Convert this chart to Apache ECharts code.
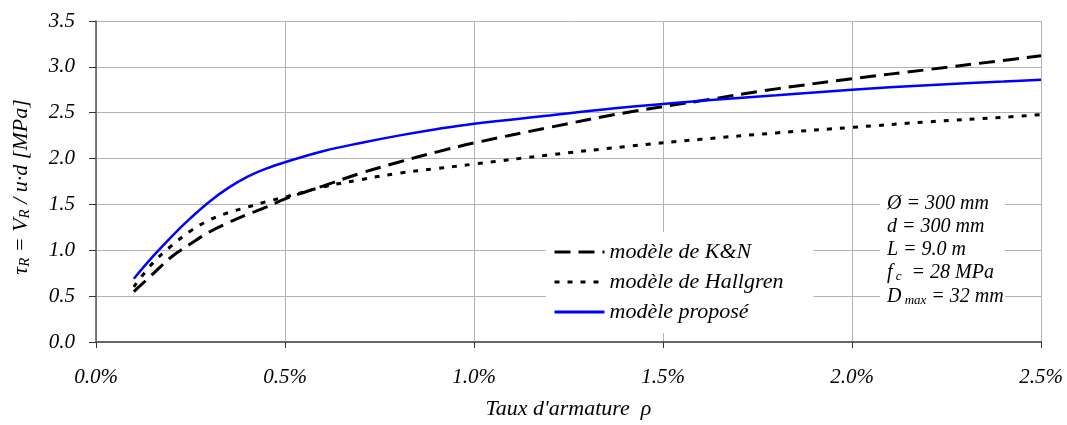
<!DOCTYPE html>
<html><head><meta charset="utf-8">
<script src="https://cdn.jsdelivr.net/npm/echarts@6/dist/echarts.min.js"></script>
<style>html,body{margin:0;padding:0;background:#fff}#c{width:1067px;height:425px}</style>
</head><body><div id="c"></div>
<script>
// Reinforcement ratio (%)
const rho = [0.1, 0.15, 0.2, 0.25, 0.3, 0.35, 0.4, 0.45, 0.5, 0.6, 0.7, 0.8, 0.9, 1.0, 1.2, 1.4, 1.6, 1.8, 2.0, 2.2, 2.4, 2.5];
// Shear strength tau_R (MPa)
const kn       = [0.55, 0.74, 0.93, 1.07, 1.20, 1.30, 1.39, 1.47, 1.56, 1.70, 1.84, 1.96, 2.07, 2.17, 2.34, 2.50, 2.63, 2.76, 2.87, 2.97, 3.07, 3.12];
const hallgren = [0.60, 0.86, 1.05, 1.21, 1.33, 1.41, 1.47, 1.53, 1.58, 1.69, 1.77, 1.84, 1.89, 1.94, 2.04, 2.13, 2.21, 2.28, 2.34, 2.40, 2.45, 2.48];
const propose  = [0.69, 0.93, 1.15, 1.35, 1.53, 1.68, 1.80, 1.89, 1.96, 2.08, 2.17, 2.25, 2.32, 2.38, 2.47, 2.56, 2.63, 2.69, 2.75, 2.80, 2.84, 2.86];
const seriesNames = ['modèle de K&N', 'modèle de Hallgren', 'modèle proposé'];

const FONT = '"Liberation Serif", "Times New Roman", serif';
const pair = (ys) => rho.map((x, i) => [x, ys[i]]);

const chart = echarts.init(document.getElementById('c'), null, {renderer: 'canvas'});
chart.setOption({
  animation: false,
  backgroundColor: '#fff',
  grid: {left: 96, right: 26, top: 21, bottom: 82, containLabel: false},
  xAxis: {
    type: 'value', min: 0, max: 2.5, interval: 0.5,
    name: 'Taux d\'armature  ρ', nameLocation: 'middle', nameGap: 56,
    nameTextStyle: {fontFamily: FONT, fontStyle: 'italic', fontSize: 22, color: '#000'},
    axisLine: {show: true, lineStyle: {color: '#666', width: 2}},
    axisTick: {show: true, length: 6, lineStyle: {color: '#333'}},
    axisLabel: {margin: 25, fontFamily: FONT, fontStyle: 'italic', fontSize: 21, color: '#000',
      formatter: v => v.toFixed(1) + '%'},
    splitLine: {show: true, lineStyle: {color: '#b3b3b3', width: 1}}
  },
  yAxis: {
    type: 'value', min: 0, max: 3.5, interval: 0.5,
    axisLine: {show: true, lineStyle: {color: '#555', width: 1.5}},
    axisTick: {show: true, length: 7, lineStyle: {color: '#333'}},
    axisLabel: {margin: 21, fontFamily: FONT, fontStyle: 'italic', fontSize: 21, color: '#000',
      formatter: v => v.toFixed(1)},
    splitLine: {show: true, lineStyle: {color: '#b3b3b3', width: 1}}
  },
  legend: {
    show: true,
    orient: 'vertical', left: 546, top: 232,
    backgroundColor: '#fff', padding: [9, 30, 10, 7],
    itemWidth: 50, itemHeight: 20, itemGap: 8,
    itemStyle: {color: 'transparent', borderColor: 'transparent', borderWidth: 0, opacity: 0},
    lineStyle: {width: 3},
    textStyle: {fontFamily: FONT, fontStyle: 'italic', fontSize: 22, color: '#000'},
    data: seriesNames
  },
  series: [
    {name: seriesNames[0], type: 'line', data: pair(kn), smooth: 0.4, symbol: 'none', showSymbol: false,
      lineStyle: {color: '#000', width: 3, type: [16, 8]}, itemStyle: {color: '#000'}, z: 3},
    {name: seriesNames[1], type: 'line', data: pair(hallgren), smooth: 0.4, symbol: 'none', showSymbol: false,
      lineStyle: {color: '#000', width: 3, type: [5, 8]}, itemStyle: {color: '#000'}, z: 3},
    {name: seriesNames[2], type: 'line', data: pair(propose), smooth: 0.4, symbol: 'none', showSymbol: false,
      lineStyle: {color: '#0000ff', width: 2.5}, itemStyle: {color: '#0000ff'}, z: 4}
  ],
  graphic: [
    {type: 'text', x: 21, y: 187, rotation: Math.PI / 2,
      style: {text: '{a|τ}{s|R}{a| = V}{s|R}{a| / u·d [MPa]}', fill: '#000',
        align: 'center', verticalAlign: 'middle',
        rich: {a: {fontFamily: FONT, fontStyle: 'italic', fontSize: 22},
               s: {fontFamily: FONT, fontStyle: 'italic', fontSize: 15, padding: [9, 0, 0, 0]}}}},
    {type: 'rect', shape: {x: 880, y: 190, width: 125, height: 118}, style: {fill: '#fff'}, z: 10},
    {type: 'text', x: 887, y: 204, z: 11, style: {text: 'Ø = 300 mm', font: 'italic 20px ' + FONT, fill: '#000', verticalAlign: 'middle'}},
    {type: 'text', x: 887, y: 227, z: 11, style: {text: 'd = 300 mm', font: 'italic 20px ' + FONT, fill: '#000', verticalAlign: 'middle'}},
    {type: 'text', x: 887, y: 250, z: 11, style: {text: 'L = 9.0 m', font: 'italic 20px ' + FONT, fill: '#000', verticalAlign: 'middle'}},
    {type: 'text', x: 887, y: 273, z: 11, style: {text: '{a|f}{s| c}{a|  = 28 MPa}', fill: '#000', verticalAlign: 'middle',
      rich: {a: {fontFamily: FONT, fontStyle: 'italic', fontSize: 20}, s: {fontFamily: FONT, fontStyle: 'italic', fontSize: 13, padding: [8, 0, 0, 0]}}}},
    {type: 'text', x: 887, y: 297, z: 11, style: {text: '{a|D}{s| max}{a| = 32 mm}', fill: '#000', verticalAlign: 'middle',
      rich: {a: {fontFamily: FONT, fontStyle: 'italic', fontSize: 20}, s: {fontFamily: FONT, fontStyle: 'italic', fontSize: 13, padding: [8, 0, 0, 0]}}}}
  ]
});
</script></body></html>
